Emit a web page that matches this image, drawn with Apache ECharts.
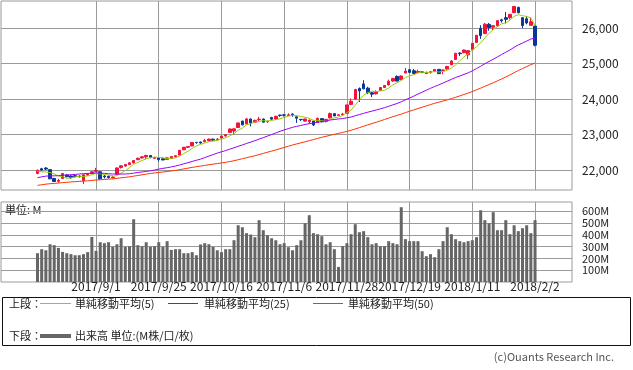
<!DOCTYPE html>
<html><head><meta charset="utf-8">
<script src="https://cdn.jsdelivr.net/npm/echarts@6/dist/echarts.min.js"></script>
<style>html,body{margin:0;padding:0;background:#fff}#c{width:633px;height:370px}</style>
</head><body><div id="c"></div>
<script>
// Trading days shown (categories)
const dates = [
 '2017/8/14','2017/8/15','2017/8/16','2017/8/17','2017/8/18','2017/8/21','2017/8/22','2017/8/23','2017/8/24','2017/8/25',
 '2017/8/28','2017/8/29','2017/8/30','2017/8/31','2017/9/1','2017/9/5','2017/9/6','2017/9/7','2017/9/8','2017/9/11',
 '2017/9/12','2017/9/13','2017/9/14','2017/9/15','2017/9/18','2017/9/19','2017/9/20','2017/9/21','2017/9/22','2017/9/25',
 '2017/9/26','2017/9/27','2017/9/28','2017/9/29','2017/10/2','2017/10/3','2017/10/4','2017/10/5','2017/10/6','2017/10/9',
 '2017/10/10','2017/10/11','2017/10/12','2017/10/13','2017/10/16','2017/10/17','2017/10/18','2017/10/19','2017/10/20','2017/10/23',
 '2017/10/24','2017/10/25','2017/10/26','2017/10/27','2017/10/30','2017/10/31','2017/11/1','2017/11/2','2017/11/3','2017/11/6',
 '2017/11/7','2017/11/8','2017/11/9','2017/11/10','2017/11/13','2017/11/14','2017/11/15','2017/11/16','2017/11/17','2017/11/20',
 '2017/11/21','2017/11/22','2017/11/24','2017/11/27','2017/11/28','2017/11/29','2017/11/30','2017/12/1','2017/12/4','2017/12/5',
 '2017/12/6','2017/12/7','2017/12/8','2017/12/11','2017/12/12','2017/12/13','2017/12/14','2017/12/15','2017/12/18','2017/12/19',
 '2017/12/20','2017/12/21','2017/12/22','2017/12/26','2017/12/27','2017/12/28','2017/12/29','2018/1/2','2018/1/3','2018/1/4',
 '2018/1/5','2018/1/8','2018/1/9','2018/1/10','2018/1/11','2018/1/12','2018/1/16','2018/1/17','2018/1/18','2018/1/19',
 '2018/1/22','2018/1/23','2018/1/24','2018/1/25','2018/1/26','2018/1/29','2018/1/30','2018/1/31','2018/2/1','2018/2/2'
];
const open = [
 21900,22035,22055,22010,21760,21680,21760,21860,21830,21840,
 21830,21700,21860,21900,21960,21950,21830,21820,21780,21880,
 22070,22110,22150,22200,22290,22340,22370,22410,22330,22340,
 22320,22300,22330,22380,22420,22570,22640,22680,22780,22790,
 22800,22830,22870,22860,22900,22960,23060,23100,23200,23380,
 23300,23440,23350,23420,23440,23360,23480,23440,23550,23555,
 23540,23580,23500,23430,23380,23360,23380,23340,23450,23370,
 23470,23590,23540,23560,23600,23850,24000,24300,24430,24310,
 24180,24150,24250,24330,24400,24510,24640,24550,24740,24830,
 24800,24750,24770,24720,24750,24790,24840,24810,24850,24970,
 25120,25300,25310,25250,25400,25600,26000,25850,26110,26030,
 26070,26240,26300,26300,26440,26590,26300,26270,26083,26062
];
const high = [
 22010,22060,22080,22020,21780,21750,21910,21880,21850,21880,
 21850,21880,21910,21960,22060,21960,21860,21840,21840,22070,
 22130,22170,22210,22280,22350,22390,22420,22420,22370,22350,
 22350,22370,22390,22410,22560,22650,22670,22780,22790,22800,
 22880,22880,22890,22900,22970,23000,23170,23170,23330,23390,
 23470,23450,23420,23500,23450,23390,23500,23530,23560,23580,
 23600,23600,23520,23440,23450,23420,23390,23480,23460,23440,
 23620,23600,23580,23610,23840,24020,24290,24330,24534,24350,
 24200,24250,24340,24400,24550,24590,24670,24670,24880,24840,
 24850,24830,24780,24780,24790,24850,24850,24830,24940,25105,
 25300,25320,25400,25370,25580,25810,26086,26150,26150,26080,
 26220,26270,26460,26400,26620,26610,26310,26340,26300,26062
];
const low = [
 21880,21980,22000,21740,21660,21640,21750,21790,21750,21790,
 21790,21600,21840,21890,21940,21720,21760,21760,21760,21870,
 22040,22090,22140,22190,22280,22320,22300,22330,22310,22240,
 22270,22280,22320,22350,22410,22560,22620,22670,22740,22740,
 22780,22800,22810,22840,22890,22940,23050,22990,23190,23260,
 23290,23230,23340,23380,23340,23330,23420,23420,23500,23510,
 23520,23500,23330,23380,23360,23300,23240,23330,23350,23340,
 23460,23520,23530,23540,23590,23830,23990,23920,24280,24140,
 24060,24130,24240,24320,24390,24490,24500,24540,24730,24730,
 24700,24740,24730,24710,24720,24780,24710,24700,24840,24960,
 25110,25220,25300,25130,25390,25590,25700,25840,25930,25950,
 26040,26160,26140,26250,26440,26420,26000,26110,26080,25490
];
const close = [
 21994,21999,22025,21751,21675,21704,21900,21812,21783,21814,
 21808,21865,21892,21948,21988,21753,21808,21785,21798,22057,
 22119,22158,22203,22268,22331,22371,22413,22359,22350,22296,
 22284,22341,22381,22405,22558,22642,22662,22775,22774,22761,
 22831,22873,22841,22872,22957,22997,23158,23163,23329,23274,
 23442,23329,23401,23434,23349,23377,23435,23516,23539,23548,
 23557,23563,23462,23422,23440,23409,23271,23458,23358,23430,
 23591,23526,23558,23581,23837,23941,24272,24232,24290,24181,
 24141,24211,24329,24386,24505,24585,24509,24652,24792,24755,
 24727,24782,24754,24746,24774,24838,24719,24824,24923,25075,
 25296,25283,25386,25369,25575,25803,25793,26116,26018,26072,
 26215,26211,26252,26393,26617,26439,26077,26149,26187,25521
];
// closes of the 49 sessions before the first bar (needed for the moving averages)
const priorCloses = [
 21184,21136,21173,21182,21272,21236,21328,21375,21360,21384,
 21529,21467,21410,21397,21395,21409,21311,21455,21288,21350,
 21479,21479,21320,21414,21409,21409,21533,21554,21638,21630,
 21575,21641,21611,21580,21513,21613,21711,21797,21830,21891,
 21964,22016,22026,22093,22118,22085,22049,21844,21858
];
// volume, millions
const volume = [
 244,278,269,320,312,289,255,244,236,227,
 227,236,253,382,264,337,329,337,298,320,
 371,298,303,532,312,303,337,298,303,337,
 298,346,272,278,278,244,244,253,227,318,
 329,320,298,269,253,278,278,354,481,464,
 414,402,380,524,439,397,371,354,320,329,
 295,269,312,354,498,566,414,405,388,320,
 337,278,128,303,329,405,490,422,431,380,
 320,329,303,303,346,329,320,634,363,346,
 346,346,261,219,236,210,278,346,464,405,
 363,346,337,346,354,380,608,524,498,592,
 439,439,524,405,481,431,456,481,414,524
];
const tickIdx = [14,29,44,59,74,89,104,119];
const priceTicks = [22000,23000,24000,25000,26000];
const volTicks = [100,200,300,400,500,600];
const maPeriods = [5,25,50];
const maColors = ['#99cc00','#9900ff','#ff3300'];

const FONT = '"Noto Sans CJK JP","Noto Sans",sans-serif';
const RED = '#f0143c', BLUE = '#0b3796', GRID = '#9a9a9a', TXT = '#222';

const allCloses = priorCloses.concat(close);
function sma(n){
  const out = [];
  for (let i = 0; i < close.length; i++){
    const end = priorCloses.length + i;
    let s = 0;
    for (let k = end - n + 1; k <= end; k++) s += allCloses[k];
    out.push([i, s / n]);
  }
  return out;
}
const candleData = close.map((c, i) => [i, open[i], c, low[i], high[i]]);
const volData = volume.map((v, i) => [i, v]);

const xMin = -8.73, xMax = 127.84;
const chart = echarts.init(document.getElementById('c'), null, {renderer:'canvas'});
const xBase = (gi, withLabels) => ({
  type:'value', gridIndex:gi, min:xMin, max:xMax,
  axisLine:{show:false},
  axisTick:{show:false, customValues:tickIdx},
  axisLabel:{show:withLabels, customValues:tickIdx, formatter:v => dates[Math.round(v)],
    fontSize:12, color:TXT, fontFamily:FONT, margin:-2},
  splitLine:{show:true, lineStyle:{color:GRID, width:1}}
});
const option = {
  animation:false,
  textStyle:{fontFamily:FONT},
  grid:[
    {left:1, top:1, width:571, height:189, show:true, borderColor:GRID, borderWidth:1, backgroundColor:'transparent'},
    {left:1, top:202, width:571, height:80, show:true, borderColor:GRID, borderWidth:1, backgroundColor:'transparent'}
  ],
  xAxis:[ xBase(0,false), xBase(1,true) ],
  yAxis:[
    {type:'value', gridIndex:0, position:'right', min:21435, max:26770,
     axisLine:{show:false},
     axisTick:{show:true, length:5, customValues:priceTicks, lineStyle:{color:GRID}},
     axisLabel:{customValues:priceTicks, formatter:v => v.toLocaleString('en-US'), fontSize:12, color:TXT, margin:10},
     splitLine:{show:true, lineStyle:{color:GRID}}},
    {type:'value', gridIndex:1, position:'right', min:0, max:678,
     axisLine:{show:false},
     axisTick:{show:true, length:5, customValues:volTicks, lineStyle:{color:GRID}},
     axisLabel:{customValues:volTicks, formatter:v => v + 'M', fontSize:11, color:TXT, margin:10},
     splitLine:{show:true, lineStyle:{color:GRID}}}
  ],
  series:[
    {type:'candlestick', xAxisIndex:0, yAxisIndex:0, data:candleData,
     encode:{x:0, y:[1,2,3,4]}, barWidth:3,
     itemStyle:{color:RED, color0:BLUE, borderColor:RED, borderColor0:BLUE, borderWidth:1}},
    ...maPeriods.map((n, k) => ({
      type:'line', xAxisIndex:0, yAxisIndex:0, data:sma(n), showSymbol:false, symbol:'none',
      lineStyle:{color:maColors[k], width:1}, z:3
    })),
    {type:'bar', xAxisIndex:1, yAxisIndex:1, data:volData, barWidth:3, itemStyle:{color:'#666'}}
  ],
  graphic:[
    {type:'text', left:5, top:204, style:{text:'単位: M', font:'11px '+FONT, fill:TXT}},
    {type:'rect', shape:{x:2.5, y:297.5, width:628, height:48}, style:{fill:'none', stroke:'#111', lineWidth:1}},
    {type:'text', x:9, y:304, style:{text:'上段：', font:'11px '+FONT, fill:TXT, verticalAlign:'middle'}},
    {type:'line', shape:{x1:40, y1:303.5, x2:71, y2:303.5}, style:{stroke:maColors[0], lineWidth:1}},
    {type:'text', x:75, y:304, style:{text:'単純移動平均(5)', font:'11px '+FONT, fill:TXT, verticalAlign:'middle'}},
    {type:'line', shape:{x1:168, y1:303.5, x2:198, y2:303.5}, style:{stroke:maColors[1], lineWidth:1}},
    {type:'text', x:204, y:304, style:{text:'単純移動平均(25)', font:'11px '+FONT, fill:TXT, verticalAlign:'middle'}},
    {type:'line', shape:{x1:313, y1:303.5, x2:343, y2:303.5}, style:{stroke:maColors[2], lineWidth:1}},
    {type:'text', x:348, y:304, style:{text:'単純移動平均(50)', font:'11px '+FONT, fill:TXT, verticalAlign:'middle'}},
    {type:'text', x:9, y:336, style:{text:'下段：', font:'11px '+FONT, fill:TXT, verticalAlign:'middle'}},
    {type:'line', shape:{x1:40, y1:336, x2:71, y2:336}, style:{stroke:'#666', lineWidth:4}},
    {type:'text', x:75, y:336, style:{text:'出来高 単位:(M株/口/枚)', font:'11px '+FONT, fill:TXT, verticalAlign:'middle'}},
    {type:'text', x:614, y:357, style:{text:'(c)Ouants Research Inc.', font:'11px '+FONT, fill:'#555', align:'right', verticalAlign:'middle'}}
  ]
};
chart.setOption(option);
</script></body></html>
